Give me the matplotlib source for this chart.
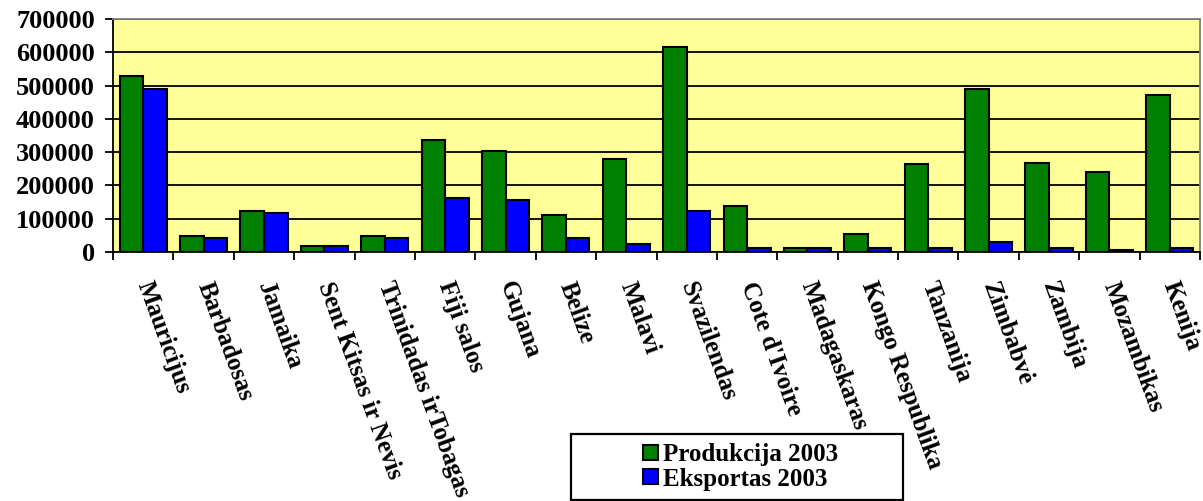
import matplotlib.pyplot as plt
from matplotlib.patches import Rectangle
import numpy as np

# ---------------------------------------------------

countries = ['Mauricijus', 'Barbadosas', 'Jamaika', 'Sent Kitsas ir Nevis',
             'Trinidadas irTobagas', 'Fiji salos', 'Gujana', 'Belize', 'Malavi',
             'Svazilendas', "Cote d'Ivoire", 'Madagaskaras', 'Kongo Respublika',
             'Tanzanija', 'Zimbabvė', 'Zambija', 'Mozambikas', 'Kenija']
produkcija = [530000, 47000, 123000, 17000, 47000, 337000, 303000, 110000, 280000,
              617000, 139000, 11000, 53000, 263000, 490000, 268000, 239000, 472000]
eksportas = [490000, 41000, 116000, 17000, 41000, 163000, 157000, 41000, 23000,
             123000, 11000, 11000, 11000, 11000, 29000, 11000, 5000, 11000]
label_1 = 'Produkcija 2003'
label_2 = 'Eksportas 2003'

# ---------------------------------------------------

plt.rcParams['font.family'] = 'Liberation Serif'
plt.rcParams['font.weight'] = 'bold'

fig = plt.figure(figsize=(12.03, 5.01), dpi=100)
ax = fig.add_axes([113 / 1203, 1 - 252 / 501, (1200 - 113) / 1203, (252 - 19) / 501])
ax.set_facecolor('#FFFF99')

x = np.arange(len(countries))
w = 0.39
ax.bar(x - w / 2, produkcija, w, color='#008000', edgecolor='black', linewidth=1.5,
       label=label_1, zorder=3)
ax.bar(x + w / 2, eksportas, w, color='#0000FF', edgecolor='black', linewidth=1.5,
       label=label_2, zorder=3)

ax.set_xlim(-0.5, len(countries) - 0.5)
ax.set_ylim(0, 700000)
ax.set_yticks(np.arange(0, 700001, 100000))
ax.set_yticklabels([str(v) for v in range(0, 700001, 100000)], fontsize=19,
                   fontweight='bold')
ax.yaxis.grid(True, color='black', linewidth=1.3, zorder=1)

ax.set_xticks(x)
ax.set_xticklabels(countries, rotation=-70, rotation_mode='anchor', ha='left',
                   va='center', fontsize=18, fontweight='bold')
ax.tick_params(axis='x', which='major', length=0, pad=22)
ax.set_xticks(np.arange(-0.5, len(countries), 1), minor=True)
ax.tick_params(axis='x', which='minor', length=6, width=1.3, direction='out')
ax.tick_params(axis='y', length=6, width=1.3, pad=7)

for s in ['top', 'right']:
    ax.spines[s].set_color('#808080')
    ax.spines[s].set_linewidth(1.3)
for s in ['left', 'bottom']:
    ax.spines[s].set_color('black')
    ax.spines[s].set_linewidth(1.3)

# legend box is wider than its content, like in the spreadsheet
fig.patches.append(Rectangle((571 / 1203, 1 - 500 / 501), (903 - 571) / 1203, 66 / 501,
                             transform=fig.transFigure, facecolor='white',
                             edgecolor='black', linewidth=1.6, zorder=0))
leg = fig.legend(loc='center', bbox_to_anchor=(741 / 1203, 1 - 467 / 501),
                 fontsize=18, frameon=False,
                 handlelength=0.6, handleheight=0.56, handletextpad=0.2,
                 borderpad=0.0, labelspacing=0.05, borderaxespad=0)
for t in leg.get_texts():
    t.set_fontweight('bold')

fig.savefig('out.png', dpi=100)
